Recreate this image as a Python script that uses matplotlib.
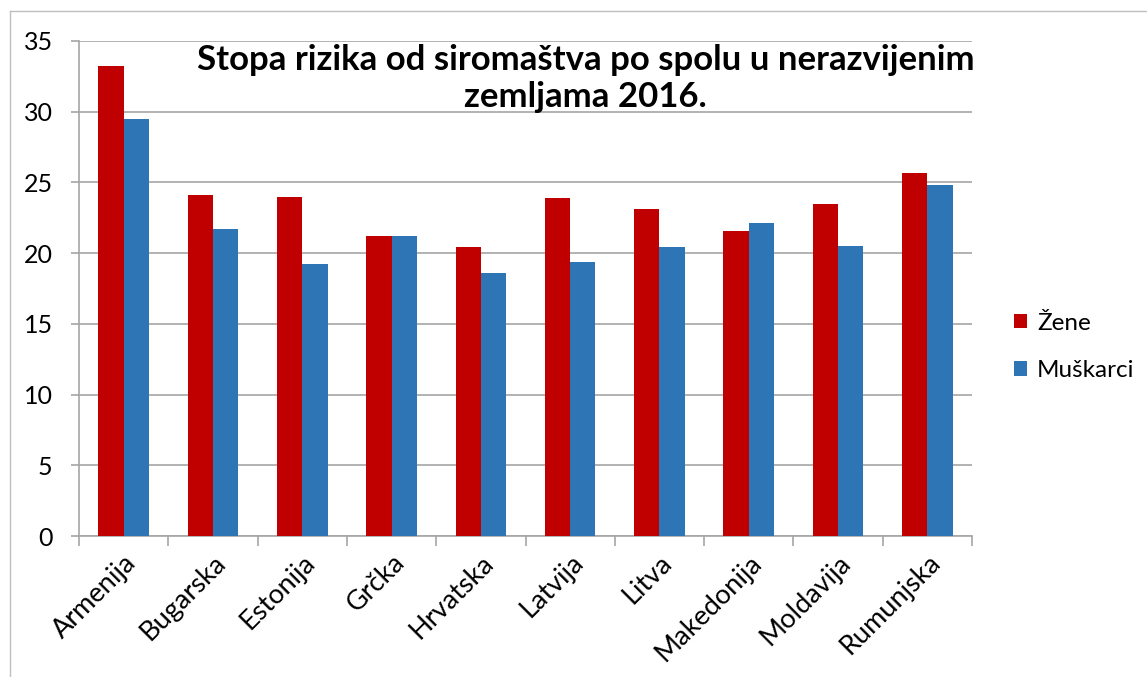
import numpy as np
import matplotlib
matplotlib.use("Agg")
import matplotlib.pyplot as plt
from matplotlib.lines import Line2D

plt.rcParams['font.family'] = ['Lato', 'DejaVu Sans']

countries = ['Armenija', 'Bugarska', 'Estonija', 'Grčka', 'Hrvatska',
             'Latvija', 'Litva', 'Makedonija', 'Moldavija', 'Rumunjska']
zene = [33.2, 24.1, 24.0, 21.2, 20.4, 23.9, 23.1, 21.6, 23.5, 25.7]
muskarci = [29.5, 21.7, 19.2, 21.2, 18.6, 19.4, 20.4, 22.1, 20.5, 24.8]
yticks = [0, 5, 10, 15, 20, 25, 30, 35]

red = '#C00000'
blue = '#2E75B6'
grid_col = '#A6A6A6'

W, H = 1147, 677
fig = plt.figure(figsize=(W / 100, H / 100), dpi=100)
ax = fig.add_axes([79 / W, 1 - 536 / H, (972 - 79) / W, (536 - 41) / H])

x = np.arange(len(countries))
bw = 0.283
ax.bar(x - bw / 2, zene, bw, color=red, label='Žene', zorder=3)
ax.bar(x + bw / 2, muskarci, bw, color=blue, label='Muškarci', zorder=3)

ax.set_xlim(-0.5, len(countries) - 0.5)
ax.set_ylim(0, 35)
ax.set_yticks(yticks)
ax.yaxis.grid(True, color=grid_col, linewidth=1.2, zorder=0)
ax.set_axisbelow(True)

for s in ['top', 'right']:
    ax.spines[s].set_visible(False)
for s in ['left', 'bottom']:
    ax.spines[s].set_color(grid_col)
    ax.spines[s].set_linewidth(1.2)

ax.tick_params(axis='y', length=6, color=grid_col, width=1.2, pad=13, labelsize=18)

# category boundaries get tick marks, centers get labels
ax.set_xticks(np.arange(-0.5, len(countries)))
ax.set_xticklabels([])
ax.set_xticks(x, minor=True)
ax.set_xticklabels(countries, minor=True, rotation=45, ha='right',
                   rotation_mode='anchor', fontsize=19.5)
ax.tick_params(axis='x', which='major', length=7, color=grid_col, width=1.2)
ax.tick_params(axis='x', which='minor', length=0, pad=10)

ax.text(0.567, 0.994, 'Stopa rizika od siromaštva po spolu u nerazvijenim\nzemljama 2016.',
        transform=ax.transAxes, ha='center', va='top', fontsize=25,
        fontweight='bold', linespacing=1.2)

fig.legend(loc='center left', bbox_to_anchor=(1014 / W, 1 - 347 / H),
           frameon=False, fontsize=17.5, handlelength=0.55, handleheight=0.55,
           labelspacing=1.1, handletextpad=0.4, borderpad=0, borderaxespad=0)

# chart frame
fig.add_artist(Line2D([10 / W, 1], [1 - 11 / H, 1 - 11 / H],
                      transform=fig.transFigure, color='#BFBFBF', linewidth=1))
fig.add_artist(Line2D([10 / W, 10 / W], [0, 1 - 11 / H],
                      transform=fig.transFigure, color='#BFBFBF', linewidth=1))

fig.savefig('out.png', dpi=100)
